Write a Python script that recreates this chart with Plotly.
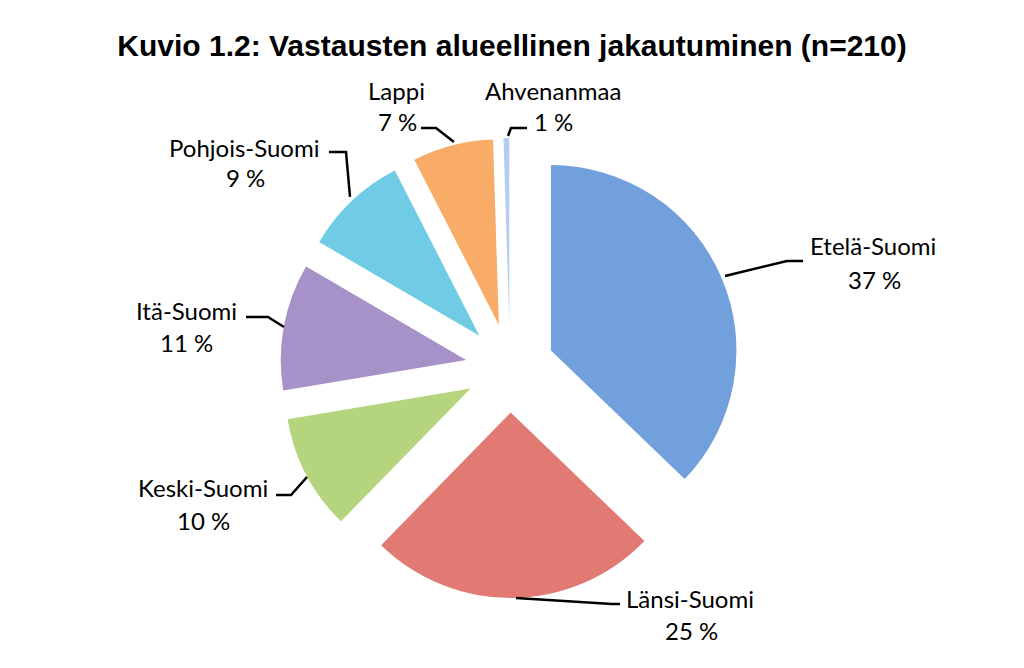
import plotly.graph_objects as go

# data (clockwise from 12 o'clock)
regions = ["Etelä-Suomi", "Länsi-Suomi", "Keski-Suomi", "Itä-Suomi",
           "Pohjois-Suomi", "Lappi", "Ahvenanmaa"]
# slice sizes as drawn (Ahvenanmaa slice is ~half a percent wide)
slice_values = [37, 25, 10, 11, 9, 7, 0.5]
# percentages as printed on the labels
pct_labels = [37, 25, 10, 11, 9, 7, 1]
colors = ["#72a0dc", "#e27a74", "#b5d47e", "#a691c8",
          "#70cce5", "#f8ac68", "#b3cdef"]

W, H = 1024, 668
OFF = 8  # page body margin

# label centres (pixels): name line, value line
label_pos = [
    ((873, 245), (874, 279)),
    ((690, 598), (691, 630)),
    ((203, 487), (203, 520)),
    ((186, 310), (186, 342)),
    ((244, 147), (245, 178)),
    ((396, 90), (397, 122)),
    ((553, 90), (553, 122)),
]
# leader lines (pixels)
leaders = [
    [(725, 276), (787, 261), (803, 261)],
    [(516, 598), (612, 604), (620, 604)],
    [(276, 495), (291, 495), (307, 477)],
    [(246, 317), (268, 317), (284, 327)],
    [(329, 152), (346, 152), (350, 197)],
    [(421, 128), (436, 128), (454, 142)],
    [(527, 128), (511, 128), (508, 136)],
]


def px(x, y):
    return (x - OFF) / W, 1 - (y - OFF) / H


cx, cy, half = 510, 368, 230
x0, y1 = px(cx - half, cy - half)
x1, y0 = px(cx + half, cy + half)

fig = go.Figure(go.Pie(
    labels=regions,
    values=slice_values,
    sort=False,
    direction="clockwise",
    rotation=0,
    pull=0.24,
    marker=dict(colors=colors, line=dict(width=0)),
    textinfo="none",
    hoverinfo="label",
    showlegend=False,
    domain=dict(x=[x0, x1], y=[y0, y1]),
))

annotations = []
for name, pct, (p1, p2) in zip(regions, pct_labels, label_pos):
    for txt, p in ((name, p1), (f"{pct} %", p2)):
        x, y = px(*p)
        annotations.append(dict(
            text=txt, x=x, y=y, xref="paper", yref="paper",
            xanchor="center", yanchor="middle", showarrow=False,
            font=dict(family="Lato", size=24, color="#000000"),
        ))

shapes = []
for pts in leaders:
    path = ""
    for i, (x, y) in enumerate(pts):
        xp, yp = px(x, y)
        path += ("M" if i == 0 else "L") + f"{xp:.4f},{yp:.4f} "
    shapes.append(dict(type="path", path=path.strip(), xref="paper", yref="paper",
                       line=dict(color="#000000", width=2.5)))

fig.update_layout(
    width=W,
    height=H,
    margin=dict(l=0, r=0, t=0, b=0),
    paper_bgcolor="white",
    plot_bgcolor="white",
    title=dict(
        text="<b>Kuvio 1.2: Vastausten alueellinen jakautuminen (n=210)</b>",
        x=px(512, 45)[0], xanchor="center", y=px(512, 45)[1], yanchor="middle",
        font=dict(family="Liberation Sans", size=30, color="#000000"),
    ),
    annotations=annotations,
    shapes=shapes,
)

fig.write_html("out.html")
